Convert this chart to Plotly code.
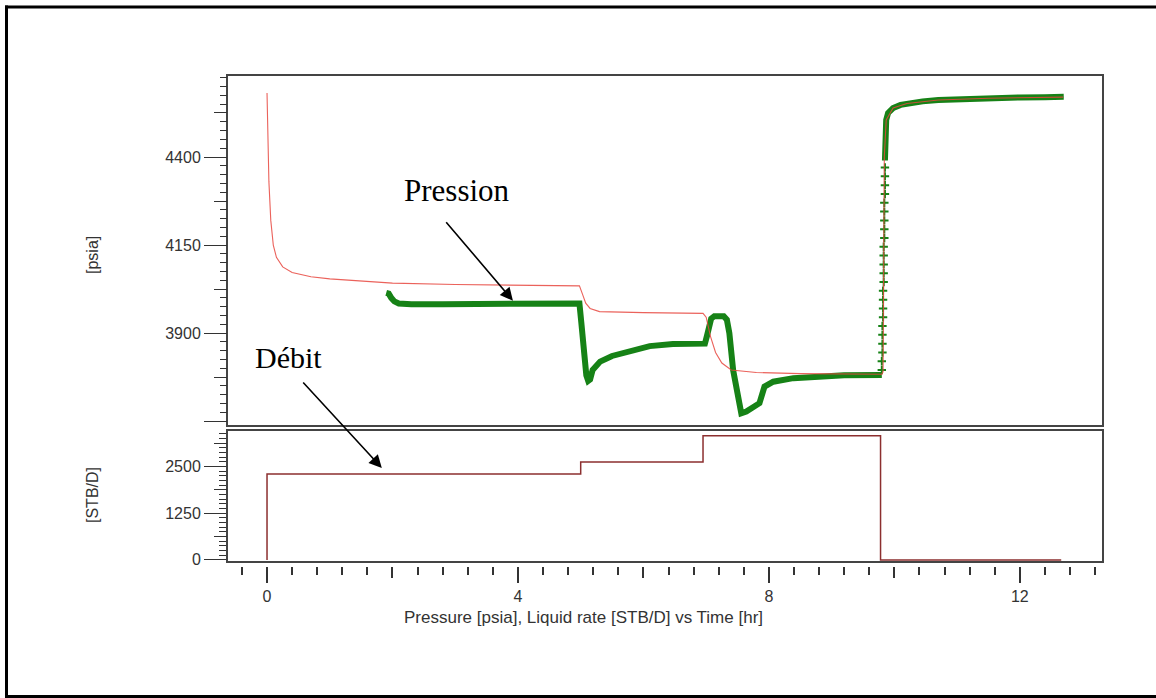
import plotly.graph_objects as go

# ---- data -------------------------------------------------------------
# simulated pressure (model), psia vs hours
model_t = [0, 0.01, 0.03, 0.06, 0.1, 0.15, 0.25, 0.4, 0.7, 1.0, 2.0, 3.0, 4.0, 4.98,
           5.03, 5.08, 5.15, 5.3, 6.0, 6.95, 7.0, 7.07, 7.15, 7.25, 7.4, 7.8, 8.5, 9.8,
           9.82, 9.84, 9.87, 9.98, 10.2, 10.7, 11.5, 12.69]
model_p = [4582, 4480, 4330, 4220, 4150, 4115, 4088, 4072, 4060, 4054, 4042, 4038, 4036, 4034,
           4010, 3985, 3970, 3961, 3958, 3956, 3945, 3890, 3845, 3815, 3795, 3788, 3785, 3783,
           3790, 4401, 4505, 4539, 4552, 4562, 4567, 4570]

# measured pressure, flowing period
meas_t = [1.90, 1.94, 1.98, 2.03, 2.1, 2.3, 2.8, 3.5, 4.2, 4.98, 5.01, 5.05, 5.09, 5.12,
          5.15, 5.19, 5.31, 5.5, 5.73, 6.1, 6.47, 6.98, 7.01, 7.04, 7.08, 7.13, 7.2, 7.28,
          7.33, 7.37, 7.43, 7.51, 7.56, 7.64, 7.85, 7.93, 8.07, 8.39, 8.66, 9.2, 9.8]
meas_p = [4014, 4012, 4000, 3990, 3984, 3982, 3982, 3983, 3984, 3984, 3930, 3840, 3780, 3764,
          3768, 3795, 3819, 3835, 3847, 3863, 3869, 3870, 3890, 3922, 3941, 3948, 3950, 3948,
          3938, 3900, 3795, 3702, 3672, 3677, 3701, 3748, 3762, 3772, 3776, 3780, 3781]

# measured pressure, early build-up samples
rise_t = [9.80, 9.80, 9.81, 9.81, 9.81, 9.81, 9.82, 9.82, 9.82, 9.82, 9.83, 9.83, 9.83,
          9.83, 9.83, 9.84, 9.84, 9.84, 9.84, 9.84, 9.85, 9.85, 9.85, 9.85]
rise_p = [3795, 3820, 3845, 3870, 3895, 3920, 3945, 3970, 3995, 4020, 4045, 4070, 4095,
          4120, 4145, 4170, 4195, 4220, 4245, 4270, 4295, 4320, 4345, 4370]

# measured pressure, late build-up
bu_t = [9.85, 9.86, 9.87, 9.9, 9.98, 10.1, 10.2, 10.45, 10.7, 11.1, 11.5, 12.0, 12.4, 12.7]
bu_p = [4390, 4460, 4505, 4525, 4539, 4548, 4552, 4558, 4562, 4565, 4567, 4569, 4570, 4571]

# liquid rate history, STB/D
rate_t = [0, 0, 5.0, 6.95, 9.78, 12.66]
rate_q = [0, 2300, 2620, 3320, 0, 0]

p_mid_ticks = [3775, 4025, 4275, 4525]
q_mid_ticks = [625, 1875, 3125]
t_mid_ticks = [2, 6, 10]

# ---- figure -----------------------------------------------------------
W, H = 1156, 698
ML, MR, MT, MB = 228, 54, 76, 132
PW, PH = W - ML - MR, H - MT - MB

def px(x):
    return (x - ML) / PW

def py(y):
    return (H - MB - y) / PH

GREEN = "#168216"
RED = "#e8473f"
MAROON = "#8c2f2f"
FRAME = "#444444"
TXT = "#333333"
SANS = "Arial, Liberation Sans, sans-serif"
SERIF = "Times New Roman, Liberation Serif, serif"

fig = go.Figure()

fig.add_trace(go.Scatter(x=meas_t, y=meas_p, mode="lines", xaxis="x", yaxis="y",
                         line=dict(color=GREEN, width=6), hoverinfo="skip"))
fig.add_trace(go.Scatter(x=rise_t, y=rise_p, mode="markers", xaxis="x", yaxis="y",
                         marker=dict(symbol="cross-thin", size=6,
                                     line=dict(color=GREEN, width=2)),
                         hoverinfo="skip"))
fig.add_trace(go.Scatter(x=bu_t, y=bu_p, mode="lines", xaxis="x", yaxis="y",
                         line=dict(color=GREEN, width=6), hoverinfo="skip"))
fig.add_trace(go.Scatter(x=model_t, y=model_p, mode="lines", xaxis="x", yaxis="y",
                         line=dict(color=RED, width=1.1), opacity=0.85, hoverinfo="skip"))
fig.add_trace(go.Scatter(x=rate_t, y=rate_q, mode="lines", line_shape="hv",
                         xaxis="x2", yaxis="y2",
                         line=dict(color=MAROON, width=1.5), hoverinfo="skip"))

# empty traces so the tick-only overlay axes get drawn
for xa, ya in [("x3", "y"), ("x4", "y"), ("x", "y3"), ("x2", "y4"), ("x", "y5")]:
    fig.add_trace(go.Scatter(x=[], y=[], xaxis=xa, yaxis=ya, mode="lines",
                             hoverinfo="skip", showlegend=False))

t_range = [-0.622, 13.31]
p_range = [3639, 4630]
q_range = [-30, 3450]

top_dom = [py(425), 1.0]
bot_dom = [py(561), py(431)]

frame = dict(showline=True, linecolor=FRAME, linewidth=2, mirror=True,
             showgrid=False, zeroline=False)
tickfont = dict(family=SANS, size=16, color=TXT)
bare = dict(showline=False, showgrid=False, zeroline=False, showticklabels=False)

fig.update_layout(
    width=W, height=H,
    margin=dict(l=ML, r=MR, t=MT, b=MB, pad=0),
    paper_bgcolor="white", plot_bgcolor="white",
    showlegend=False,
    xaxis=dict(domain=[0, 1], range=t_range, anchor="y", showticklabels=False,
               ticks="", **frame),
    yaxis=dict(domain=top_dom, range=p_range, anchor="x", tickmode="linear",
               tick0=3900, dtick=250, labelalias={"3650": " "},
               ticks="outside", ticklen=22, tickwidth=1.2,
               tickcolor=TXT, tickfont=tickfont, **frame),
    xaxis2=dict(domain=[0, 1], range=t_range, anchor="y2", matches="x",
                showticklabels=False, ticks="", **frame),
    yaxis2=dict(domain=bot_dom, range=q_range, anchor="x2", tickmode="linear",
                tick0=0, dtick=1250, ticks="outside", ticklen=22, tickwidth=1.2,
                tickcolor=TXT, tickfont=tickfont,
                minor=dict(dtick=125, tick0=0, ticks="outside", ticklen=7,
                           tickwidth=1.2, tickcolor=TXT, showgrid=False),
                **frame),
    # time ticks hanging just below the rate panel
    xaxis3=dict(overlaying="x", anchor="free", position=0, side="bottom",
                range=t_range, tickmode="linear", tick0=0, dtick=4, ticks="outside",
                ticklen=16, tickwidth=1.5, tickcolor=TXT, tickfont=tickfont,
                showline=False, showgrid=False, zeroline=False,
                minor=dict(dtick=0.4, tick0=0, ticks="outside", ticklen=8,
                           tickwidth=1.5, tickcolor=TXT, showgrid=False)),
    xaxis4=dict(overlaying="x", anchor="free", position=0, side="bottom",
                range=t_range, tickmode="array", tickvals=t_mid_ticks, ticks="outside",
                ticklen=11, tickwidth=1.5, tickcolor=TXT, **bare),
    yaxis3=dict(overlaying="y", anchor="x", side="left", range=p_range,
                tickmode="array", tickvals=p_mid_ticks, ticks="outside", ticklen=13,
                tickwidth=1.2, tickcolor=TXT, **bare),
    yaxis4=dict(overlaying="y2", anchor="x2", side="left", range=q_range,
                tickmode="array", tickvals=q_mid_ticks, ticks="outside", ticklen=13,
                tickwidth=1.2, tickcolor=TXT, **bare),
    # fine pressure ticks every 25 psia
    yaxis5=dict(overlaying="y", anchor="x", side="left", range=p_range,
                tickmode="linear", tick0=0, dtick=25, ticks="outside", ticklen=7,
                tickwidth=1.2, tickcolor=TXT, **bare),
)

# outer border
border = dict(color="black", width=3)
fig.add_shape(type="line", xref="paper", yref="paper",
              x0=px(6.5), x1=px(6.5), y0=py(5.5), y1=py(697), line=border)
fig.add_shape(type="line", xref="paper", yref="paper",
              x0=px(5), x1=px(1156), y0=py(7), y1=py(7), line=border)
fig.add_shape(type="line", xref="paper", yref="paper",
              x0=px(5), x1=px(1156), y0=py(696.5), y1=py(696.5), line=border)

# axis titles
for label, yc in [("[psia]", 255), ("[STB/D]", 495)]:
    fig.add_annotation(text=label, xref="paper", yref="paper", x=px(92), y=py(yc),
                       xanchor="center", yanchor="middle", textangle=-90,
                       showarrow=False, font=dict(family=SANS, size=16, color=TXT))
fig.add_annotation(text="Pressure [psia], Liquid rate [STB/D] vs Time [hr]",
                   xref="paper", yref="paper", x=px(583.5), y=py(617),
                   xanchor="center", yanchor="middle", showarrow=False,
                   font=dict(family=SANS, size=17, color=TXT))

# callouts
fig.add_annotation(text="Pression", xref="x", yref="y", x=3.03, y=4306, showarrow=False,
                   xanchor="center", yanchor="middle",
                   font=dict(family=SERIF, size=31, color="black"))
fig.add_annotation(text="", xref="x", yref="y", x=3.92, y=3992, ax=-68, ay=-80,
                   axref="pixel", ayref="pixel", showarrow=True, arrowhead=2,
                   arrowsize=1.6, arrowwidth=1.6, arrowcolor="black")
fig.add_annotation(text="Débit", xref="x", yref="y", x=0.35, y=3832, showarrow=False,
                   xanchor="center", yanchor="middle",
                   font=dict(family=SERIF, size=30, color="black"))
fig.add_annotation(text="", xref="x2", yref="y2", x=1.83, y=2460, ax=-80, ay=-87,
                   axref="pixel", ayref="pixel", showarrow=True, arrowhead=2,
                   arrowsize=1.6, arrowwidth=1.6, arrowcolor="black")

fig.write_html("out.html")
